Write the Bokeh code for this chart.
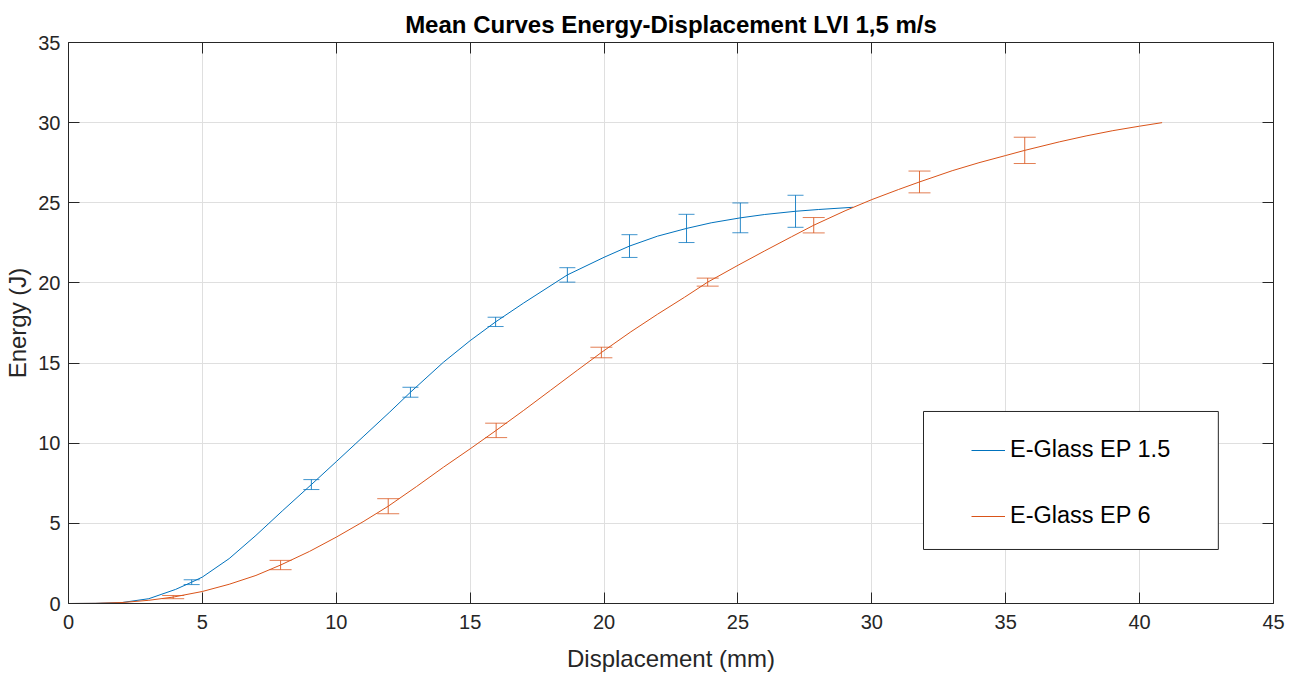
from bokeh.plotting import figure
from bokeh.models import (ColumnDataSource, Whisker, TeeHead, LinearAxis, Range1d,
                          Legend, LegendItem, BoxAnnotation, FixedTicker, CustomJSTickFormatter)
from bokeh.embed import file_html
from bokeh.resources import INLINE

# ---------------- data ----------------
title_text = "Mean Curves Energy-Displacement LVI 1,5 m/s"
x_label = "Displacement (mm)"
y_label = "Energy (J)"
series_names = ["E-Glass EP 1.5", "E-Glass EP 6"]
x_ticks = [0, 5, 10, 15, 20, 25, 30, 35, 40, 45]
y_ticks = [0, 5, 10, 15, 20, 25, 30, 35]

# mean curve E-Glass EP 1.5
ep15_x = [0, 1, 2, 3, 4, 4.6, 5, 6, 7, 8, 9.07, 10, 11, 12, 12.77, 14, 15, 15.95,
          17, 18.63, 20, 20.95, 22, 23.08, 24, 25.09, 26, 27.15, 28, 29.3]
ep15_y = [0, 0.01, 0.06, 0.3, 0.88, 1.33, 1.65, 2.8, 4.25, 5.8, 7.42, 8.85, 10.4, 11.95, 13.18,
          15.05, 16.4, 17.57, 18.75, 20.5, 21.6, 22.3, 22.92, 23.4, 23.75, 24.06, 24.27, 24.47, 24.58, 24.72]

# mean curve E-Glass EP 6
ep6_x = [0, 1, 2, 3, 3.91, 5, 6, 7, 7.92, 9, 10, 11, 11.94, 13, 14, 15, 15.97, 17, 18, 19,
         19.9, 21, 22, 23, 23.87, 25, 26, 27, 27.83, 29, 30, 31, 31.78, 33, 34, 35, 35.71,
         37, 38, 39, 40, 40.84]
ep6_y = [0, 0.01, 0.06, 0.2, 0.4, 0.75, 1.2, 1.75, 2.4, 3.25, 4.14, 5.1, 6.07, 7.3, 8.5, 9.65,
         10.8, 12.05, 13.3, 14.55, 15.66, 16.95, 18.05, 19.1, 20.05, 21.1, 22.0, 22.88, 23.6,
         24.5, 25.2, 25.83, 26.3, 27.0, 27.5, 27.95, 28.27, 28.8, 29.17, 29.5, 29.78, 30.0]

# error bars (mean +/- deviation)
ep15_bar_x = [4.6, 9.07, 12.77, 15.95, 18.63, 20.95, 23.08, 25.09, 27.15]
ep15_bar_mean = [1.33, 7.42, 13.18, 17.57, 20.5, 22.3, 23.40, 24.06, 24.47]
ep15_bar_err = [0.15, 0.31, 0.31, 0.29, 0.45, 0.71, 0.88, 0.93, 1.0]

ep6_bar_x = [3.91, 7.92, 11.94, 15.97, 19.9, 23.87, 27.83, 31.78, 35.71]
ep6_bar_mean = [0.40, 2.40, 6.07, 10.80, 15.66, 20.05, 23.6, 26.3, 28.27]
ep6_bar_err = [0.10, 0.29, 0.47, 0.45, 0.33, 0.25, 0.48, 0.68, 0.82]

# ---------------- styling ----------------
BLUE = "#0072BD"
ORANGE = "#D95319"
AXC = "#262626"
GRIDC = "#dfdfdf"
FONT = "Liberation Sans"

p = figure(frame_width=1205, frame_height=561,
           min_border_left=68, min_border_right=25, min_border_top=42, min_border_bottom=70,
           x_range=Range1d(0, 45), y_range=Range1d(0, 35),
           output_backend="svg", toolbar_location=None,
           x_axis_label=x_label, y_axis_label=y_label)
p.background_fill_color = "white"
p.border_fill_color = "white"
p.outline_line_color = None

p.title.text = title_text
p.title.align = "center"
p.title.text_font = FONT
p.title.text_font_size = "24px"
p.title.text_font_style = "bold"
p.title.text_color = "black"
p.title.standoff = 9

for ax in (p.xaxis[0], p.yaxis[0]):
    ax.axis_line_color = AXC
    ax.axis_line_width = 1
    ax.major_tick_line_color = AXC
    ax.major_tick_in = 11
    ax.major_tick_out = 0
    ax.minor_tick_line_color = None
    ax.major_label_text_font = FONT
    ax.major_label_text_font_size = "20px"
    ax.major_label_text_color = AXC
    ax.axis_label_text_font = FONT
    ax.axis_label_text_font_size = "24px"
    ax.axis_label_text_font_style = "normal"
    ax.axis_label_text_color = AXC

p.xaxis[0].ticker = FixedTicker(ticks=x_ticks)
p.yaxis[0].ticker = FixedTicker(ticks=y_ticks)
p.xaxis[0].major_label_standoff = 11
p.xaxis[0].axis_label_standoff = 13
p.yaxis[0].major_label_standoff = 8
p.yaxis[0].axis_label_standoff = 4

blank = CustomJSTickFormatter(code="return ''")
top_ax = LinearAxis(ticker=FixedTicker(ticks=x_ticks), formatter=blank)
right_ax = LinearAxis(ticker=FixedTicker(ticks=y_ticks), formatter=blank)
for ax in (top_ax, right_ax):
    ax.axis_line_color = AXC
    ax.major_tick_line_color = AXC
    ax.major_tick_in = 11
    ax.major_tick_out = 0
    ax.minor_tick_line_color = None
    ax.major_label_standoff = 0
p.add_layout(top_ax, "above")
p.add_layout(right_ax, "right")

p.xgrid.ticker = FixedTicker(ticks=x_ticks)
p.ygrid.ticker = FixedTicker(ticks=y_ticks)
for g in (p.xgrid[0], p.ygrid[0]):
    g.grid_line_color = GRIDC
    g.grid_line_width = 1

# curves
r15 = p.line(ep15_x, ep15_y, line_color=BLUE, line_width=1)
r6 = p.line(ep6_x, ep6_y, line_color=ORANGE, line_width=1)

# error bars
def add_whisker(xs, means, errs, color, head):
    src = ColumnDataSource(dict(base=xs,
                                upper=[m + e for m, e in zip(means, errs)],
                                lower=[m - e for m, e in zip(means, errs)]))
    w = Whisker(source=src, base="base", upper="upper", lower="lower", dimension="height",
                line_color=color, line_width=1, line_alpha=0.85,
                upper_head=TeeHead(size=head, line_color=color, line_width=1, line_alpha=0.75),
                lower_head=TeeHead(size=head, line_color=color, line_width=1, line_alpha=0.75))
    w.level = "glyph"
    p.add_layout(w)

add_whisker(ep15_bar_x, ep15_bar_mean, ep15_bar_err, BLUE, 16)
add_whisker(ep6_bar_x, ep6_bar_mean, ep6_bar_err, ORANGE, 22)

# legend box
box = BoxAnnotation(left=31.93, right=42.94, bottom=3.37, top=11.98,
                    fill_color="white", fill_alpha=1.0,
                    line_color=AXC, line_alpha=1.0, line_width=1)
p.add_layout(box)

legend = Legend(items=[LegendItem(label=series_names[0], renderers=[r15]),
                       LegendItem(label=series_names[1], renderers=[r6])],
                location=(903, 74), orientation="vertical",
                border_line_color=None, background_fill_alpha=0,
                padding=10, spacing=39, glyph_width=34, glyph_height=24,
                label_height=24, label_standoff=5,
                label_text_font=FONT, label_text_font_size="23.5px", label_text_color="black")
p.add_layout(legend, "center")

open("out.html", "w").write(file_html(p, INLINE))
